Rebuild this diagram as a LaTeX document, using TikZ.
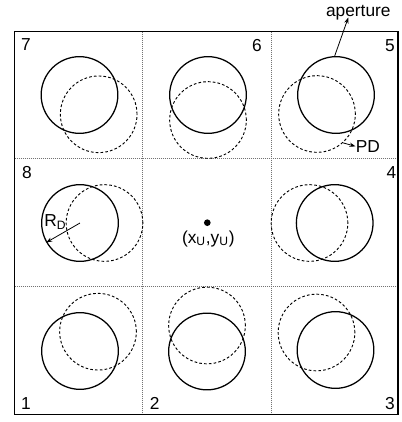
\documentclass[tikz,border=0pt]{standalone}
\usepackage{fontspec}
\setmainfont{Liberation Sans}
\usetikzlibrary{arrows.meta}
\begin{document}
\begin{tikzpicture}[x=0.75pt,y=-0.75pt,
  lbl/.style={font=\fontsize{13}{15}\selectfont, inner sep=0pt},
  apcirc/.style={circle, draw, line width=0.95pt, minimum size=57.5pt, inner sep=0pt},
  pdcirc/.style={circle, draw, line width=0.7pt, dash pattern=on 2pt off 1.6pt, minimum size=57.5pt, inner sep=0pt},
  gridline/.style={line width=0.5pt, black!55, dash pattern=on 0.6pt off 0.9pt},
  arr/.style={-{Stealth[length=4.5pt,width=3.2pt]}, line width=0.6pt}]
\useasboundingbox (0,0) rectangle (401,422);
% grid
\draw[gridline] (142.8,31.7) -- (142.8,414.3);
\draw[gridline] (271,31.7) -- (271,414.3);
\draw[gridline] (14.7,158) -- (398,158);
\draw[gridline] (14.7,286.5) -- (398,286.5);
\draw[line width=0.9pt] (14.7,31.7) rectangle (398,414.3);
% PD circles (dashed)
\node[pdcirc] (d1) at (98,331.7) {};
\node[pdcirc] (d2) at (207,325.5) {};
\node[pdcirc] (d3) at (316.5,332.5) {};
\node[pdcirc] (d4) at (309.5,223) {};
\node[pdcirc] (d5) at (317,114) {};
\node[pdcirc] (d6) at (208,120) {};
\node[pdcirc] (d7) at (98.7,114.3) {};
\node[pdcirc] (d8) at (104.5,223) {};
% aperture circles (solid)
\node[apcirc] (s1) at (80,351) {};
\node[apcirc] (s2) at (207,351.5) {};
\node[apcirc] (s3) at (335.5,350) {};
\node[apcirc] (s4) at (334.7,223) {};
\node[apcirc] (s5) at (336,95) {};
\node[apcirc] (s6) at (208,95) {};
\node[apcirc] (s7) at (79.5,95) {};
\node[apcirc] (s8) at (80,223) {};
% cell numbers
\node[lbl, anchor=base] (n7) at (26,50) {7};
\node[lbl, anchor=base] (n6) at (257,51.5) {6};
\node[lbl, anchor=base] (n5) at (390,51.5) {5};
\node[lbl, anchor=base] (n8) at (27,178.3) {8};
\node[lbl, anchor=base] (n4) at (391.5,178.3) {4};
\node[lbl, anchor=base] (n1) at (26,409.3) {1};
\node[lbl, anchor=base] (n2) at (154.7,409.3) {2};
\node[lbl, anchor=base] (n3) at (390,409) {3};
% centre
\node[circle, fill, inner sep=0pt, minimum size=5pt] (u) at (207.3,222.7) {};
\node[lbl, anchor=base] (ulbl) at (208.3,243) {(x\textsubscript{U},y\textsubscript{U})};
% labels
\node[lbl, anchor=base] (ap) at (358.3,16) {aperture};
\coordinate (apend) at (348.3,17.5);
\draw[arr] (s5.92) -- (apend);
\node[lbl, anchor=base west] (pd) at (355.5,152.3) {PD};
\draw[arr] (d5.-48) -- (pd.west);
\node[lbl, anchor=base west] (rd) at (44,226.7) {R\textsubscript{D}};
\draw[arr] (s8.center) -- (s8.210.8);
\end{tikzpicture}
\end{document}
